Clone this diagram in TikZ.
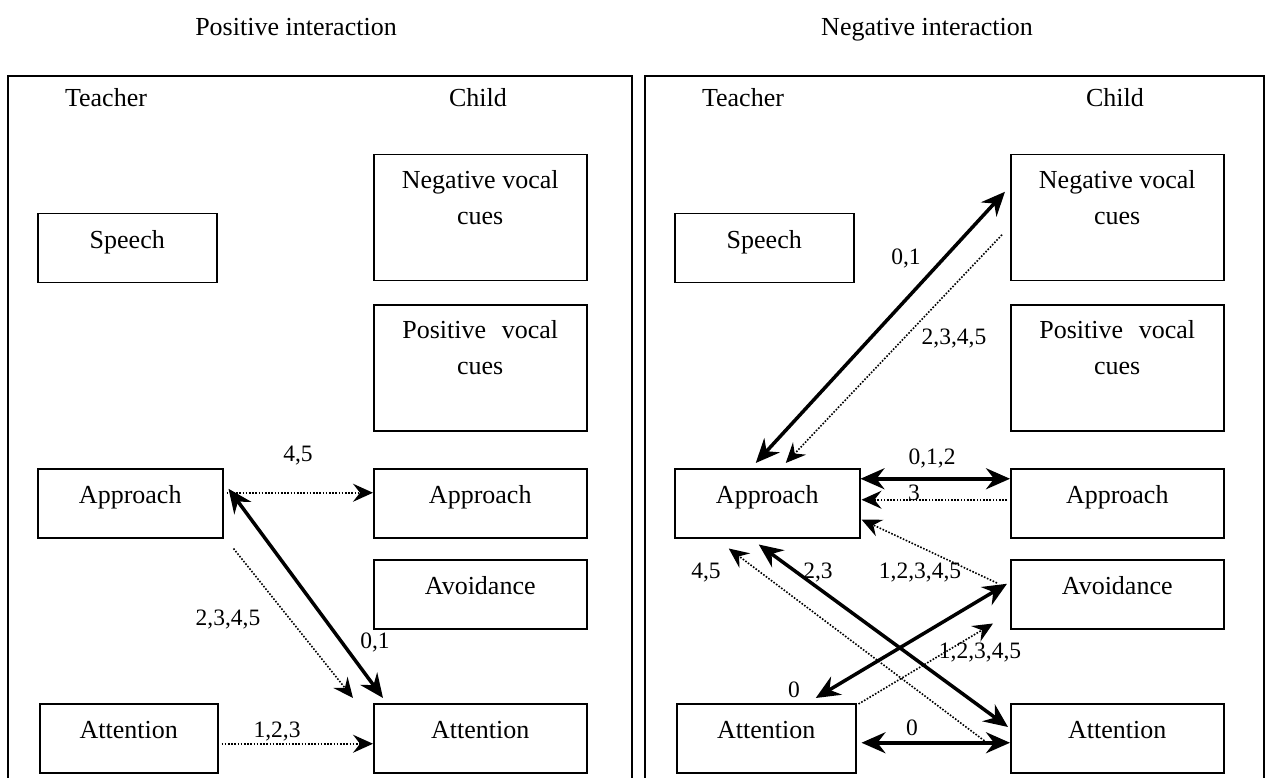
\documentclass[tikz,border=0pt]{standalone}
\usepackage{fontspec}
\setmainfont{Liberation Serif}
\usetikzlibrary{arrows.meta}

\begin{document}
\begin{tikzpicture}[x=1pt,y=-1pt,
  every node/.style={inner sep=0pt},
  frame/.style={line width=1.5pt},
  box/.style={draw, line width=1.5pt, anchor=north west, align=center,
    font=\fontsize{26}{36}\selectfont, text height=17pt, text depth=17pt,
    minimum height=69pt},
  vbox/.style={box, minimum width=213pt, minimum height=126pt,
    text height=53pt, text depth=39pt},
  head/.style={font=\fontsize{26}{30}\selectfont, anchor=base},
  num/.style={font=\fontsize{23.5}{28}\selectfont, anchor=base},
  strong/.style={line width=3.5pt,
    {Stealth[length=24pt,width=21pt,inset=8pt]}-{Stealth[length=24pt,width=21pt,inset=8pt]}},
  weak/.style={line width=1.6pt, dash pattern=on 1.6pt off 1.6pt,
    -{Stealth[length=20pt,width=18pt,inset=7pt]}}
]
\useasboundingbox (0,0) rectangle (1267,778);

% panel frames
\draw[frame] (8,778) -- (8,76) -- (632,76) -- (632,778);
\draw[frame] (645,778) -- (645,76) -- (1264,76) -- (1264,778);

% headings
\node[head] (LTitle) at (296,36) {Positive interaction};
\node[head] (RTitle) at (927,36) {Negative interaction};
\node[head] (LTeacher) at (106,107) {Teacher};
\node[head] (LChild) at (478,107) {Child};
\node[head] (RTeacher) at (743,107) {Teacher};
\node[head] (RChild) at (1115,107) {Child};

% positive interaction boxes
\node[box, minimum width=179pt] (LSpeech) at (37,213) {Speech};
\node[vbox] (LNeg) at (373,154) {Negative vocal\\cues};
\node[vbox] (LPos) at (373,304) {Positive\hspace{0.35em} vocal\\cues};
\node[box, minimum width=185pt] (LtApp) at (37,468) {Approach};
\node[box, minimum width=213pt] (LcApp) at (373,468) {Approach};
\node[box, minimum width=213pt] (LAvoid) at (373,559) {Avoidance};
\node[box, minimum width=178pt] (LtAtt) at (39,703) {Attention};
\node[box, minimum width=213pt] (LcAtt) at (373,703) {Attention};

% negative interaction boxes
\node[box, minimum width=179pt] (RSpeech) at (674,213) {Speech};
\node[vbox] (RNeg) at (1010,154) {Negative vocal\\cues};
\node[vbox] (RPos) at (1010,304) {Positive\hspace{0.35em} vocal\\cues};
\node[box, minimum width=185pt] (RtApp) at (674,468) {Approach};
\node[box, minimum width=213pt] (RcApp) at (1010,468) {Approach};
\node[box, minimum width=213pt] (RAvoid) at (1010,559) {Avoidance};
\node[box, minimum width=179pt] (RtAtt) at (676,703) {Attention};
\node[box, minimum width=213pt] (RcAtt) at (1010,703) {Attention};

% positive interaction links
\draw[weak] ([xshift=3pt,yshift=10.5pt]LtApp.east) -- ([yshift=10.5pt]LcApp.west);
\draw[strong] ([xshift=5pt,yshift=14.5pt]LtApp.east) -- ([xshift=10pt,yshift=5pt]LcAtt.north west);
\draw[weak] ([xshift=10pt,yshift=-10pt]LtApp.south east) -- ([xshift=-20pt,yshift=5pt]LcAtt.north west);
\draw[weak] ([xshift=3pt,yshift=-5.5pt]LtAtt.east) -- ([yshift=-5.5pt]LcAtt.west);

\node[num] (L45) at (298,461) {4,5};
\node[num] (L01) at (375,648) {0,1};
\node[num] (L2345) at (228,625) {2,3,4,5};
\node[num] (L123) at (277,737) {1,2,3};

% negative interaction links
\draw[strong] ([xshift=-11.5pt,yshift=5pt]RtApp.north) -- ([xshift=-5pt,yshift=26pt]RNeg.west);
\draw[weak] ([xshift=-8pt,yshift=-17pt]RNeg.west) -- ([xshift=18.5pt,yshift=5pt]RtApp.north);
\draw[strong] ([yshift=24.5pt]RtApp.east) -- ([yshift=24.5pt]RcApp.west);
\draw[weak] ([xshift=-3pt,yshift=3.5pt]RcApp.west) -- ([xshift=1pt,yshift=3.5pt]RtApp.east);
\draw[weak] ([xshift=-13pt,yshift=-24pt]RAvoid.north west) -- ([xshift=1pt,yshift=19pt]RtApp.south east);
\draw[strong] ([xshift=-8.5pt,yshift=-6pt]RtApp.south) -- ([xshift=-2pt,yshift=-24pt]RcAtt.north west);
\draw[weak] ([xshift=-23pt,yshift=-4.5pt]RcAtt.west) -- ([xshift=-38.5pt,yshift=-10pt]RtApp.south);
\draw[strong] ([xshift=-3pt,yshift=10.5pt]RAvoid.west) -- ([xshift=49.5pt,yshift=5pt]RtAtt.north);
\draw[weak] ([xshift=2pt,yshift=-1pt]RtAtt.north east) -- ([xshift=-17pt,yshift=6pt]RAvoid.south west);
\draw[strong] ([xshift=5pt,yshift=-4.5pt]RtAtt.east) -- ([yshift=-4.5pt]RcAtt.west);

\node[num] (R01a) at (906,265) {0,1};
\node[num] (R2345) at (954,344) {2,3,4,5};
\node[num] (R012) at (932,464) {0,1,2};
\node[num] (R3) at (914,500) {3};
\node[num] (R45) at (706,578) {4,5};
\node[num] (R23) at (818,578) {2,3};
\node[num] (R12345a) at (920,578) {1,2,3,4,5};
\node[num] (R12345b) at (980,658) {1,2,3,4,5};
\node[num] (R0a) at (794,697) {0};
\node[num] (R0b) at (912,735) {0};
\end{tikzpicture}
\end{document}
